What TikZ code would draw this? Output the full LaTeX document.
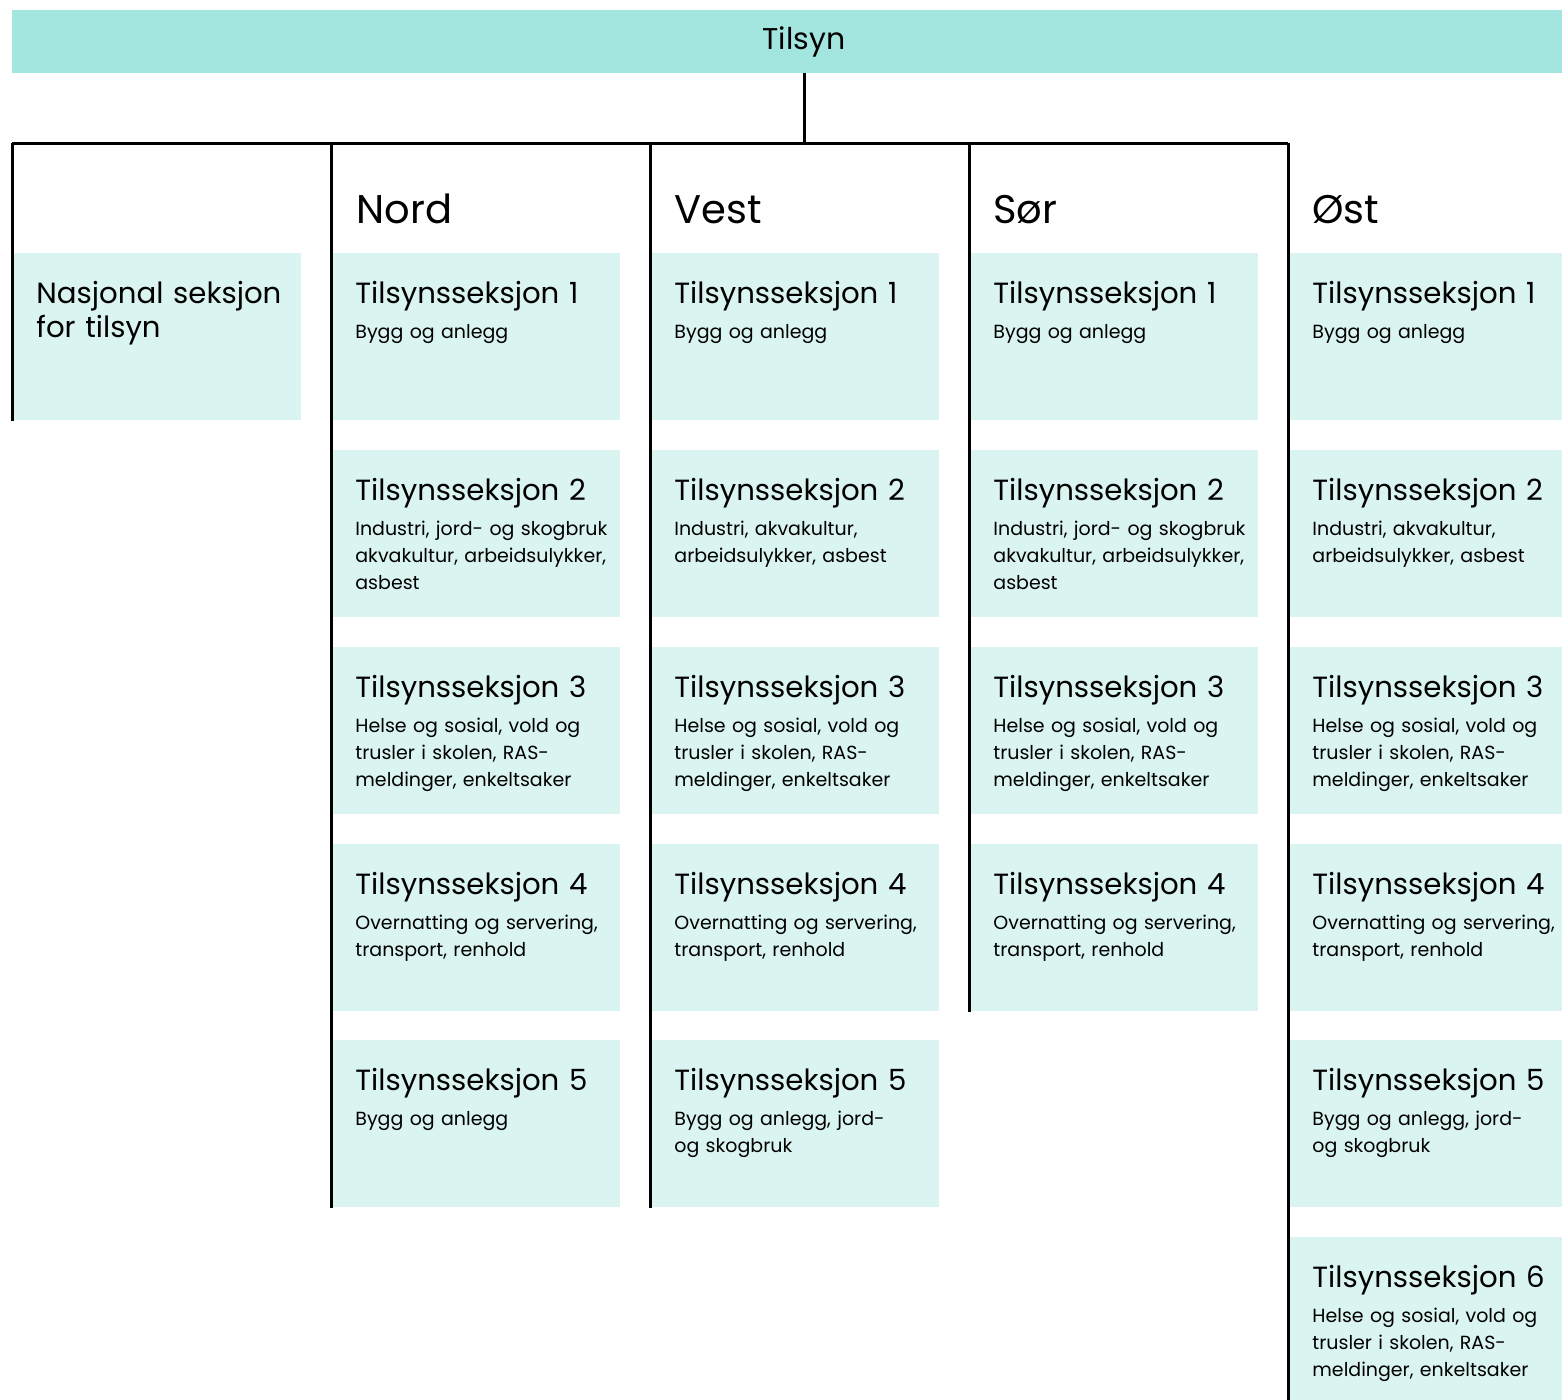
\documentclass[tikz,border=0pt]{standalone}
\usepackage{fontspec}
\setmainfont{Poppins}
\definecolor{turkis}{HTML}{A3E5DF}
\definecolor{lysturkis}{HTML}{DAF4F1}

\tikzset{
  topp/.style={fill=turkis, minimum width=792pt, minimum height=31.5pt, inner sep=0pt, font=\fontsize{15}{17}\selectfont},
  boks/.style={fill=lysturkis, minimum width=144.5pt, minimum height=83.5pt, anchor=north west, inner sep=0pt},
  region/.style={anchor=base west, inner sep=0pt, font=\fontsize{20}{24}\selectfont},
  tittel/.style={anchor=base west, inner sep=0pt, text width=140pt, align=left, font=\fontsize{14.6}{17}\selectfont},
  tekst/.style={anchor=base west, inner sep=0pt, text width=140pt, align=left, font=\fontsize{9.5}{13.5}\selectfont},
  linje/.style={line width=1.5pt}
}

% en seksjonsboks: navn, posisjon, nummer, tekst
\newcommand{\seksjon}[4]{%
  \node[boks] (#1) at (#2) {};
  \node[tittel] (#1-t) at ([shift={(24,50)}]#1.north west) {Tilsynsseksjon #3};
  \node[tekst] (#1-u) at ([shift={(24,85)}]#1.north west) {#4};
}

\begin{document}
\begin{tikzpicture}[x=0.5pt, y=-0.5pt]
                \clip (0,0) rectangle (1562,1399);

                % Tilsyn
                \node[topp] (tilsyn) at (804,41.5) {Tilsyn};

                % Nasjonal seksjon
                \node[boks] (nasjonal) at (12,253) {};
                \node[tittel] (nasjonal-t) at (36,303) {Nasjonal seksjon\\for tilsyn};

                % Nord
                \node[region] (nord) at (356,223) {Nord};
                \seksjon{n1}{331,253}{1}{Bygg og anlegg}
                \seksjon{n2}{331,450}{2}{Industri, jord- og skogbruk\\akvakultur, arbeidsulykker,\\asbest}
                \seksjon{n3}{331,647}{3}{Helse og sosial, vold og\\trusler i skolen, RAS-\\meldinger, enkeltsaker}
                \seksjon{n4}{331,844}{4}{Overnatting og servering,\\transport, renhold}
                \seksjon{n5}{331,1040}{5}{Bygg og anlegg}

                % Vest
                \node[region] (vest) at (674,223) {Vest};
                \seksjon{v1}{650,253}{1}{Bygg og anlegg}
                \seksjon{v2}{650,450}{2}{Industri, akvakultur,\\arbeidsulykker, asbest}
                \seksjon{v3}{650,647}{3}{Helse og sosial, vold og\\trusler i skolen, RAS-\\meldinger, enkeltsaker}
                \seksjon{v4}{650,844}{4}{Overnatting og servering,\\transport, renhold}
                \seksjon{v5}{650,1040}{5}{Bygg og anlegg, jord-\\og skogbruk}

                % Sør
                \node[region] (sor) at (993,223) {Sør};
                \seksjon{s1}{969,253}{1}{Bygg og anlegg}
                \seksjon{s2}{969,450}{2}{Industri, jord- og skogbruk\\akvakultur, arbeidsulykker,\\asbest}
                \seksjon{s3}{969,647}{3}{Helse og sosial, vold og\\trusler i skolen, RAS-\\meldinger, enkeltsaker}
                \seksjon{s4}{969,844}{4}{Overnatting og servering,\\transport, renhold}

                % Øst
                \node[region] (ost) at (1312,223) {Øst};
                \seksjon{o1}{1288,253}{1}{Bygg og anlegg}
                \seksjon{o2}{1288,450}{2}{Industri, akvakultur,\\arbeidsulykker, asbest}
                \seksjon{o3}{1288,647}{3}{Helse og sosial, vold og\\trusler i skolen, RAS-\\meldinger, enkeltsaker}
                \seksjon{o4}{1288,844}{4}{Overnatting og servering,\\transport, renhold}
                \seksjon{o5}{1288,1040}{5}{Bygg og anlegg, jord-\\og skogbruk}
                \seksjon{o6}{1288,1237}{6}{Helse og sosial, vold og\\trusler i skolen, RAS-\\meldinger, enkeltsaker}

                % Linjer
                \coordinate (k0) at (12,143);
                \coordinate (k1) at (331,143);
                \coordinate (k2) at (650,143);
                \coordinate (k3) at (969,143);
                \coordinate (k4) at (1288,143);
                \draw[linje] (tilsyn.south) -- (tilsyn.south |- k0);
                \draw[linje] (k0) -- (k4);
                \draw[linje] (k0) -- (k0 |- nasjonal.south);
                \draw[linje] (k1) -- (k1 |- n5.south);
                \draw[linje] (k2) -- (k2 |- v5.south);
                \draw[linje] (k3) -- (k3 |- s4.south);
                \draw[linje] (k4) -- (k4 |- o6.south);
            \end{tikzpicture}
\end{document}
